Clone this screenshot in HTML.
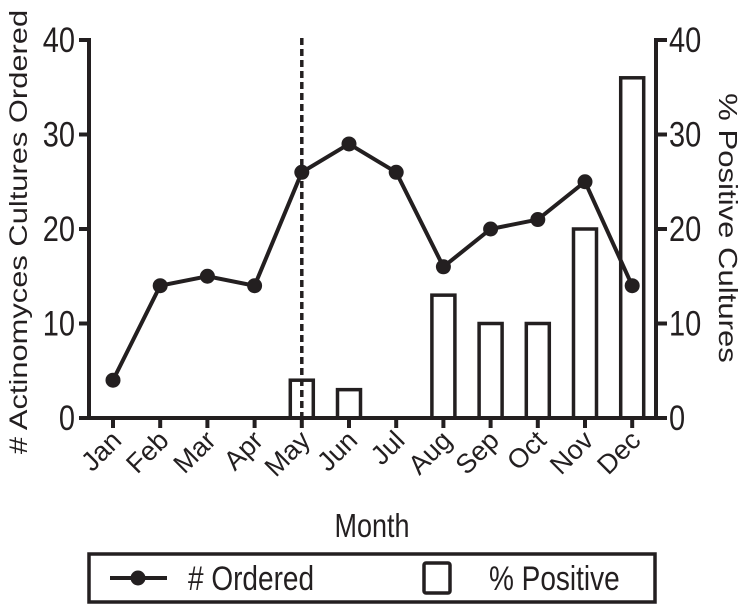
<!DOCTYPE html>
<html><head><meta charset="utf-8"><style>
body{margin:0;background:#fff}
svg text{font-family:"Liberation Sans",Arial,sans-serif;fill:#231f20}
</style></head><body>
<svg id="chart" width="750" height="605" viewBox="0 0 750 605" xmlns="http://www.w3.org/2000/svg">
<g id="g"></g>
</svg>
<script>
const months=["Jan","Feb","Mar","Apr","May","Jun","Jul","Aug","Sep","Oct","Nov","Dec"];
const ordered=[4,14,15,14,26,29,26,16,20,21,25,14];
const positive=[0,0,0,0,4,3,0,13,10,10,20,36];
const leftTicks=[0,10,20,30,40];
const rightTicks=[0,10,20,30,40];
const markerMonth="May";
const NS="http://www.w3.org/2000/svg";
const g=document.getElementById('g');
const x0=113,dx=47.2,yB=418,yT=40,maxV=40,S=1.22;
const xs=i=>x0+i*dx;
const y=v=>yB-(v/maxV)*(yB-yT);
function el(t,a,txt){const e=document.createElementNS(NS,t);for(const k in a)e.setAttribute(k,a[k]);if(txt!==undefined)e.textContent=txt;g.appendChild(e);return e;}
function txt(x,yy,size,anchor,s){return el('text',{x:0,y:0,'font-size':size,'text-anchor':anchor,transform:`translate(${x} ${yy}) scale(1 ${S})`},s);}
const C="#231f20",W=3.5;
positive.forEach((v,i)=>{if(v<=0)return;const b=el('rect',{x:xs(i)-11.5,y:y(v),width:23,height:yB-y(v),fill:'#fff',stroke:C,'stroke-width':W});

});
const mi=months.indexOf(markerMonth);
const dl=el('line',{x1:xs(mi),x2:xs(mi),y1:38,y2:yB,stroke:C,'stroke-width':W,'stroke-dasharray':'7,4'});


const la=el('line',{x1:89,x2:89,y1:yT-2,y2:yB+2,stroke:C,'stroke-width':4});


const ra=el('line',{x1:656,x2:656,y1:yT-2,y2:yB+2,stroke:C,'stroke-width':4});


const xa=el('line',{x1:79,x2:666,y1:yB,y2:yB,stroke:C,'stroke-width':4});


leftTicks.forEach(v=>{el('line',{x1:79,x2:89,y1:y(v),y2:y(v),stroke:C,'stroke-width':4});
const t=txt(75,y(v)+12,29,'end',v);

});
rightTicks.forEach(v=>{el('line',{x1:656,x2:667,y1:y(v),y2:y(v),stroke:C,'stroke-width':4});
const t=txt(669,y(v)+12,29,'start',v);

});
months.forEach((m,i)=>{el('line',{x1:xs(i),x2:xs(i),y1:yB,y2:yB+10,stroke:C,'stroke-width':4});
const t=el('text',{x:0,y:0,'font-size':27,'text-anchor':'end',transform:`translate(${xs(i)+10} ${yB+24}) rotate(-45)`},m);

});
const pl=el('polyline',{points:ordered.map((v,i)=>xs(i)+','+y(v)).join(' '),fill:'none',stroke:C,'stroke-width':4});


ordered.forEach((v,i)=>{const c=el('circle',{cx:xs(i),cy:y(v),r:7.5,fill:C});

});
let t=txt(372,537,27,'middle','Month');


t=el('text',{x:0,y:0,'font-size':25.3,'text-anchor':'middle',transform:`translate(27 232) scale(1 ${S}) rotate(-90)`},'# Actinomyces Cultures Ordered');


t=el('text',{x:0,y:0,'font-size':25.5,'text-anchor':'middle',transform:`translate(719 228) scale(1 ${S}) rotate(90)`},'% Positive Cultures');


const lb=el('rect',{x:89,y:554,width:566,height:48,fill:'#fff',stroke:C,'stroke-width':3.5});


el('line',{x1:110,x2:167,y1:578,y2:578,stroke:C,'stroke-width':4});
el('circle',{cx:138,cy:578,r:7.5,fill:C});
t=txt(188,590,28,'start','# Ordered');


el('rect',{x:424,y:563,width:26,height:30,rx:2,fill:'#fff',stroke:C,'stroke-width':3.5});
t=txt(489,590,28,'start','% Positive');


</script>
</body></html>
